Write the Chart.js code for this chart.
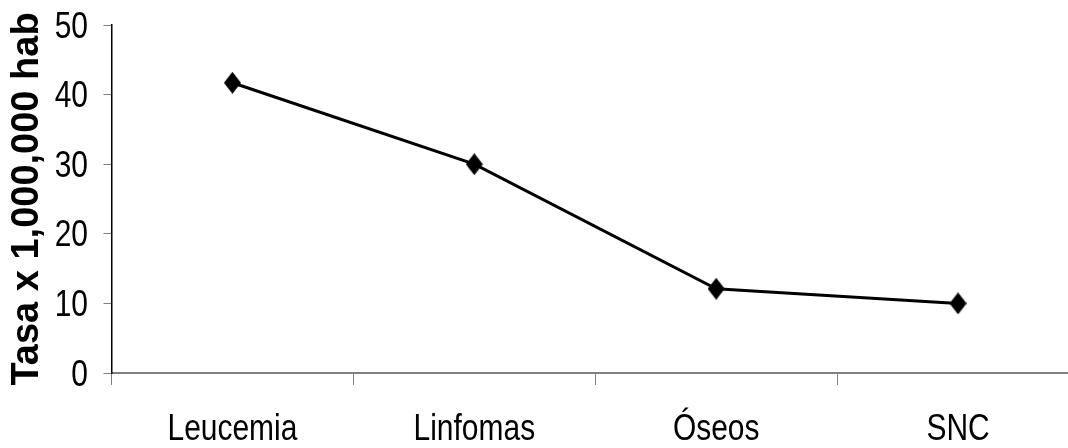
<!DOCTYPE html>
<html>
<head>
<meta charset="utf-8">
<script src="https://cdn.jsdelivr.net/npm/chart.js@4.4.1/dist/chart.umd.min.js"></script>
<style>
  html, body { margin: 0; padding: 0; background: #fff; overflow: hidden; }
  #wrap { width: 1068px; height: 448px; overflow: hidden; }
  #box { width: 1086px; height: 448px; }
</style>
</head>
<body>
<div id="wrap"><div id="box"><canvas id="c"></canvas></div></div>
<script>
// data
var categories = ['Leucemia', 'Linfomas', 'Óseos', 'SNC'];
var tasa = [41.7, 30.0, 12.1, 10.0];
var yTicks = [0, 10, 20, 30, 40, 50];
var yTitle = 'Tasa x 1,000,000 hab';

var sans = "'Liberation Sans', Arial, sans-serif";

// tall black diamond marker
function diamond(w, h) {
  var cv = document.createElement('canvas');
  cv.width = w; cv.height = h;
  var g = cv.getContext('2d');
  g.fillStyle = '#000';
  g.beginPath();
  g.moveTo(w / 2, 0);
  g.lineTo(w, h / 2);
  g.lineTo(w / 2, h);
  g.lineTo(0, h / 2);
  g.closePath();
  g.fill();
  return cv;
}
var marker = diamond(17, 22);

// no Arial Narrow here, so tick labels get squeezed Liberation Sans
var narrowTicks = {
  id: 'narrowTicks',
  afterDraw: function (chart) {
    var ctx = chart.ctx;
    var xs = chart.scales.x, ys = chart.scales.y;
    ctx.save();
    ctx.fillStyle = '#000';
    ctx.font = '37px ' + sans;
    ctx.textBaseline = 'alphabetic';
    ctx.textAlign = 'center';
    categories.forEach(function (c, i) {
      ctx.save();
      ctx.translate(xs.getPixelForValue(i), 440);
      ctx.scale(0.81, 1);
      ctx.fillText(c, 0, 0);
      ctx.restore();
    });
    ctx.textAlign = 'right';
    yTicks.forEach(function (v) {
      ctx.save();
      ctx.translate(88, ys.getPixelForValue(v) + 12.5);
      ctx.scale(0.81, 1);
      ctx.fillText(String(v), 0, 0);
      ctx.restore();
    });
    ctx.restore();
  }
};

new Chart(document.getElementById('c'), {
  type: 'line',
  data: {
    labels: categories,
    datasets: [{
      data: tasa,
      borderColor: '#000',
      borderWidth: 3,
      pointStyle: marker,
      tension: 0
    }]
  },
  options: {
    responsive: true,
    maintainAspectRatio: false,
    animation: false,
    layout: { padding: { top: 25, left: 0, right: 0, bottom: 0 } },
    plugins: { legend: { display: false }, tooltip: { enabled: false } },
    scales: {
      x: {
        offset: true,
        grid: { offset: true, drawOnChartArea: false, drawTicks: true, tickLength: 12, color: '#808080', lineWidth: 1 },
        border: { display: true, color: '#808080', width: 2 },
        ticks: { display: false },
        afterFit: function (s) { s.height = 75; }
      },
      y: {
        min: 0, max: 50,
        afterBuildTicks: function (s) { s.ticks = yTicks.map(function (v) { return { value: v }; }); },
        grid: { drawOnChartArea: false, drawTicks: true, tickLength: 8, color: '#808080' },
        border: { display: true, color: '#000', width: 1.5 },
        ticks: { display: false },
        title: { display: true, text: yTitle, color: '#000', padding: { top: 5, bottom: 0 }, font: { family: sans, size: 38, weight: 'bold' } },
        afterFit: function (s) { s.width = 111.5; }
      }
    }
  },
  plugins: [narrowTicks]
});
</script>
</body>
</html>
